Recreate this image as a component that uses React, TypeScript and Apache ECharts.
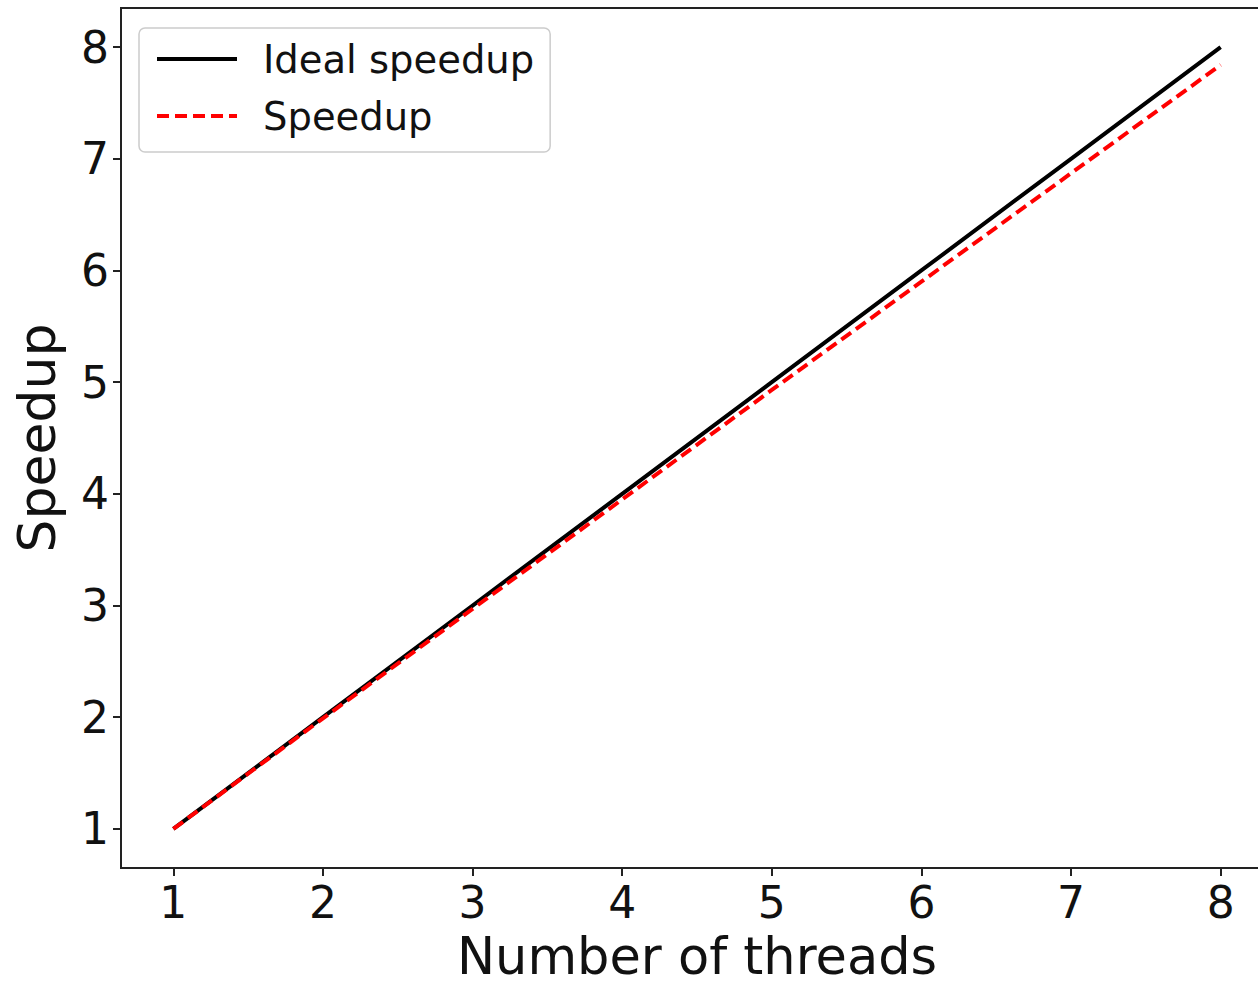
import React, { useEffect, useRef } from "react";
import * as echarts from "echarts";

const threads = [1, 2, 3, 4, 5, 6, 7, 8];
const idealSpeedup = [1, 2, 3, 4, 5, 6, 7, 8];
const speedup = [1, 1.99, 2.97, 3.95, 4.93, 5.9, 6.87, 7.84];
const tickValues = [1, 2, 3, 4, 5, 6, 7, 8];

const FONT = "DejaVu Sans";

export default function App() {
  const ref = useRef<HTMLDivElement>(null);
  useEffect(() => {
    if (!ref.current) return;
    const chart = echarts.init(ref.current, null, { renderer: "svg" });
    chart.setOption({
      animation: false,
      backgroundColor: "#ffffff",
      textStyle: { fontFamily: FONT },
      grid: {
        left: 121,
        top: 8,
        bottom: 118,
        right: -15,
        show: true,
        borderColor: "#222",
        borderWidth: 2,
        containLabel: false,
        outerBoundsMode: "none",
      },
      legend: {
        left: 139,
        top: 28,
        orient: "vertical",
        padding: [11, 16, 16, 16],
        itemWidth: 80,
        itemHeight: 40,
        itemGap: 17,
        borderColor: "#cccccc",
        borderWidth: 1.5,
        borderRadius: 6,
        backgroundColor: "rgba(255,255,255,0.8)",
        itemStyle: { opacity: 0 },
        lineStyle: { width: 4 },
        textStyle: {
          fontFamily: FONT,
          fontSize: 38.5,
          color: "#111",
          lineHeight: 40,
          padding: [0, 0, 0, 21],
        },
        data: ["Ideal speedup", "Speedup"],
      },
      xAxis: {
        type: "value",
        min: 0.65,
        max: 8.35,
        name: "Number of threads",
        nameLocation: "middle",
        nameGap: 65,
        nameTextStyle: {
          fontFamily: FONT,
          fontSize: 51,
          color: "#111",
          lineHeight: 46,
        },
        axisLine: { show: true, lineStyle: { color: "#222", width: 2 } },
        axisTick: {
          show: true,
          length: 8,
          lineStyle: { color: "#222", width: 2 },
          customValues: tickValues,
        },
        axisLabel: {
          fontFamily: FONT,
          fontSize: 44,
          color: "#111",
          margin: 12,
          customValues: tickValues,
          formatter: (v: number) => String(v),
        },
        splitLine: { show: false },
      },
      yAxis: {
        type: "value",
        min: 0.65,
        max: 8.35,
        name: "Speedup",
        nameLocation: "middle",
        nameGap: 58,
        nameRotate: 90,
        nameTextStyle: { fontFamily: FONT, fontSize: 52, color: "#111" },
        axisLine: { show: true, lineStyle: { color: "#222", width: 2 } },
        axisTick: {
          show: true,
          length: 8,
          lineStyle: { color: "#222", width: 2 },
          customValues: tickValues,
        },
        axisLabel: {
          fontFamily: FONT,
          fontSize: 44,
          color: "#111",
          margin: 12,
          customValues: tickValues,
          formatter: (v: number) => String(v),
        },
        splitLine: { show: false },
      },
      series: [
        {
          name: "Ideal speedup",
          type: "line",
          data: threads.map((t, i) => [t, idealSpeedup[i]]),
          symbol: "none",
          lineStyle: { color: "#000000", width: 4 },
          itemStyle: { color: "#000000" },
          z: 2,
        },
        {
          name: "Speedup",
          type: "line",
          data: threads.map((t, i) => [t, speedup[i]]),
          symbol: "none",
          lineStyle: { color: "#ff0000", width: 4, type: [12, 6] },
          itemStyle: { color: "#ff0000" },
          z: 3,
        },
      ],
    });
    return () => chart.dispose();
  }, []);
  return (
    <div
      ref={ref}
      style={{ position: "fixed", left: 0, top: 0, width: 1258, height: 986 }}
    />
  );
}
